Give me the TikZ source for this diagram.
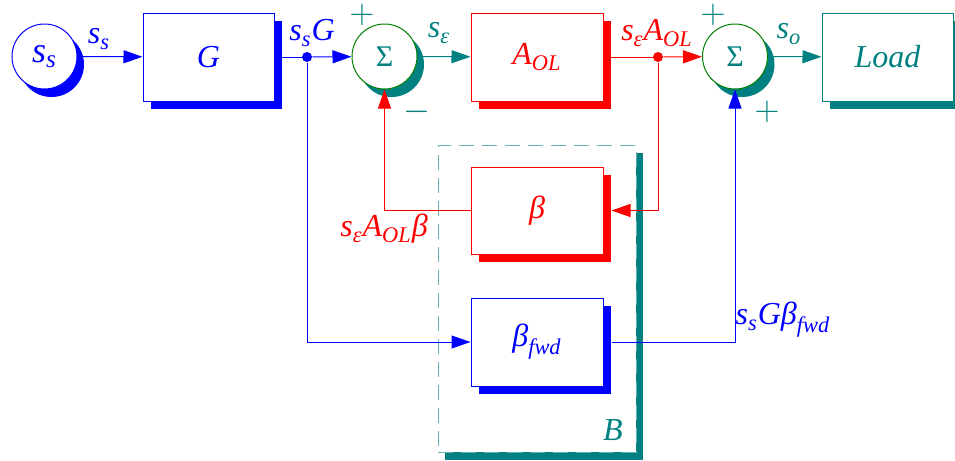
\documentclass[tikz,border=0pt]{standalone}
\usepackage{amsmath}
\usepackage{fontspec}
\setmainfont{Liberation Serif}
\definecolor{tealc}{RGB}{0,128,128}
\definecolor{greenc}{RGB}{0,128,0}
\newcommand{\vv}[1]{\textit{#1}}
\tikzstyle{signal} = [-{Triangle[length=9.5pt,width=6.5pt]}]
\tikzstyle{grouping} = [dash pattern=on 7.5pt off 4pt]
\usetikzlibrary{arrows.meta}
\usetikzlibrary{shadows}
\usetikzlibrary{positioning}

\begin{document}
\begin{tikzpicture}[x=0.5pt,y=-0.5pt,
                      line width=0.5pt,
                      block/.style={draw,fill=white,minimum width=66pt,minimum height=44pt,inner sep=0pt,
                                    font=\fontsize{16}{19}\selectfont,
                                    drop shadow={shadow xshift=4pt,shadow yshift=-4pt,opacity=1,fill=#1}},
                      round node/.style={circle,fill=white,minimum size=32.5pt,inner sep=0pt,
                                    drop shadow={shadow xshift=3.5pt,shadow yshift=-4pt,opacity=1,fill=#1}},
                      sum node/.style={round node=tealc,draw=greenc,text=tealc,font=\fontsize{15}{18}\selectfont},
                      sign/.style={text=tealc,font=\fontsize{17}{17}\selectfont},
                      label node/.style={font=\fontsize{16}{19}\selectfont},
                      dot node/.style={circle,fill,inner sep=0pt,minimum size=5pt}]
  \useasboundingbox (0,0) rectangle (955,461);

        % group B behind everything
        \node[fill=white,draw=tealc!60,grouping,minimum width=99pt,minimum height=153.5pt,
              drop shadow={shadow xshift=3.5pt,shadow yshift=-4pt,opacity=1,fill=tealc}] (B) at (537,298.5) {};
        \node[text=tealc,font=\fontsize{16}{19}\selectfont] (Bname) at (613,430) {\vv{B}};

        \node[round node=blue,draw=blue,text=blue,font=\fontsize{18}{21}\selectfont] (src) at (44.5,56.5) {$\vv{s}_{\vv{s}}$};
        \node[block=blue,draw=blue,text=blue,minimum width=65.5pt] (G) at (208.5,57) {$\vv{G}$};
        \node[dot node,blue] (jG) at (307,57) {};
        \node[sum node] (sum1) at (384.5,56.5) {Σ};
        \node[block=red,draw=red,text=red] (AOL) at (537,57) {$\vv{A}_{\vv{OL}}$};
        \node[dot node,red] (jA) at (658,57) {};
        \node[sum node] (sum2) at (735,56.5) {Σ};
        \node[block=tealc,draw=tealc,text=tealc,minimum width=65.5pt] (load) at (887.5,57) {\vv{Load}};

        \node[block=red,draw=red,text=red,minimum height=43.5pt] (beta) at (537,210.5) {$\vv{β}$};
        \node[block=blue,draw=blue,text=blue] (bfwd) at (537,342) {$\vv{β}_{\vv{fwd}}$};

        % signs at the summing points
        \node[sign] (p1) at (362,15) {$+$};
        \node[sign] (m1) at (417,112) {$-$};
        \node[sign] (p2) at (713,15) {$+$};
        \node[sign] (p3) at (767,112) {$+$};

        % signals
        \draw[blue,signal] (src) -- (G);
        \draw[blue] (G) -- (jG);
        \draw[blue,signal] (jG) -- (sum1);
        \draw[blue,signal] (jG) |- (bfwd);
        \draw[tealc,signal] (sum1) -- (AOL);
        \draw[red] (AOL) -- (jA);
        \draw[red,signal] (jA) -- (sum2);
        \draw[red,signal] (jA) |- ([xshift=4pt]beta.east);
        \draw[red,signal] (beta) -| (sum1);
        \draw[blue,signal] ([xshift=4pt]bfwd.east) -| (sum2);
        \draw[tealc,signal] (sum2) -- (load);

        \node[label node,blue] (lss) at (99,39) {$\vv{s}_{\vv{s}}$};
        \node[label node,blue] (lsG) at (312,33) {$\vv{s}_{\vv{s}}\vv{G}$};
        \node[label node,tealc] (lse) at (439,33) {$\vv{s}_{\vv{ε}}$};
        \node[label node,red] (lseA) at (657,33) {$\vv{s}_{\vv{ε}}\vv{A}_{\vv{OL}}$};
        \node[label node,tealc] (lso) at (789,34) {$\vv{s}_{\vv{o}}$};
        \node[label node,red] (lfb) at (384,229) {$\vv{s}_{\vv{ε}}\vv{A}_{\vv{OL}}\vv{β}$};
        \node[label node,blue] (lfwd) at (783,320) {$\vv{s}_{\vv{s}}\vv{G}\vv{β}_{\vv{fwd}}$};
    \end{tikzpicture}
\end{document}
